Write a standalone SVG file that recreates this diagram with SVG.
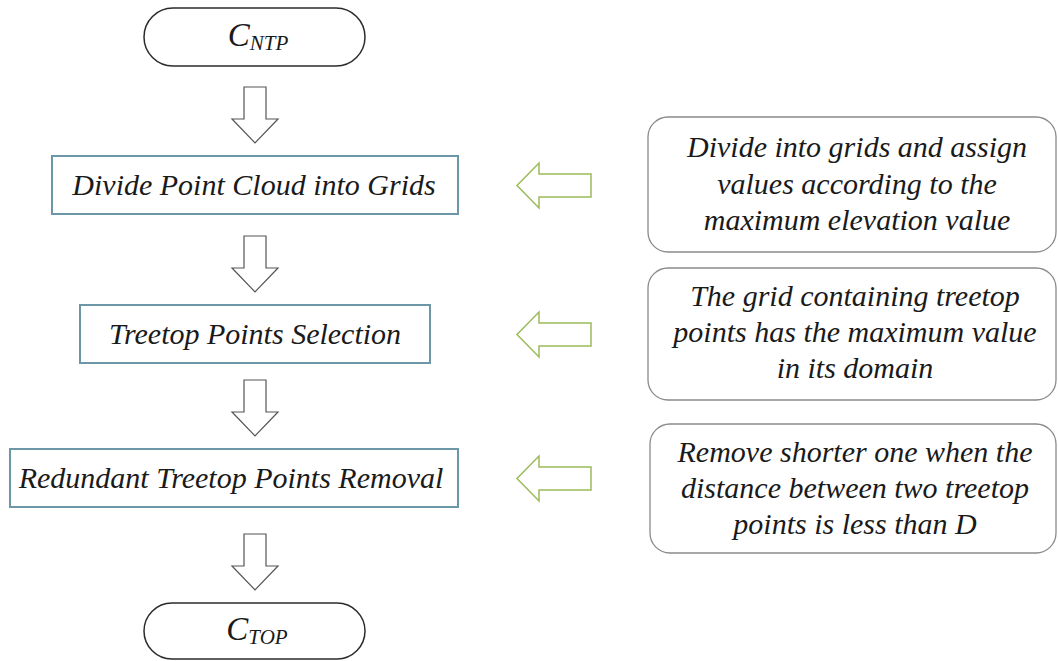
<svg xmlns="http://www.w3.org/2000/svg" width="1058" height="661" viewBox="0 0 1058 661">
<defs>
<style>
.t{font-family:"Liberation Serif","Times New Roman",serif;font-style:italic;fill:#1a1a1a;font-size:30px;text-anchor:middle}
.term{fill:#fff;stroke:#2b2b2b;stroke-width:1.5}
.proc{fill:#fff;stroke:#6b97a6;stroke-width:2}
.note{fill:#fff;stroke:#8a8a8a;stroke-width:1.3}
.down{fill:#fff;stroke:#555;stroke-width:1.2}
.left{fill:#fff;stroke:#9bbb59;stroke-width:1.5}
.sub{font-size:21px}
</style>
</defs>
<rect width="1058" height="661" fill="#fff"/>
<g id="start">
<rect class="term" x="144" y="8" width="221" height="58" rx="29"/>
<text class="t" x="258" y="46" style="font-size:33px">C<tspan class="sub" dy="4">NTP</tspan></text>
</g>
<g id="divide">
<rect class="proc" x="52" y="156" width="406" height="58"/>
<text class="t" x="254" y="195">Divide Point Cloud into Grids</text>
</g>
<g id="select">
<rect class="proc" x="80" y="305" width="350" height="58"/>
<text class="t" x="255" y="344">Treetop Points Selection</text>
</g>
<g id="remove">
<rect class="proc" x="10" y="449" width="448" height="58"/>
<text class="t" x="231" y="488">Redundant Treetop Points Removal</text>
</g>
<g id="end">
<rect class="term" x="144" y="603" width="221" height="56" rx="28"/>
<text class="t" x="257" y="640" style="font-size:33px">C<tspan class="sub" dy="4">TOP</tspan></text>
</g>
<g id="note1">
<rect class="note" x="648" y="117" width="408" height="135" rx="20"/>
<text class="t" x="857" y="157">Divide into grids and assign</text>
<text class="t" x="857" y="194">values according to the</text>
<text class="t" x="857" y="230">maximum elevation value</text>
</g>
<g id="note2">
<rect class="note" x="648" y="268" width="408" height="132" rx="20"/>
<text class="t" x="855" y="306">The grid containing treetop</text>
<text class="t" x="855" y="342">points has the maximum value</text>
<text class="t" x="855" y="378">in its domain</text>
</g>
<g id="note3">
<rect class="note" x="650" y="424" width="406" height="129" rx="20"/>
<text class="t" x="855" y="462">Remove shorter one when the</text>
<text class="t" x="855" y="498">distance between two treetop</text>
<text class="t" x="855" y="534">points is less than  D</text>
</g>
<g id="connectors">
<path class="down" d="M244,87 H266 V119 H278 L255,143 L232,119 H244 Z"/>
<path class="down" d="M244,236 H266 V268 H278 L255,292 L232,268 H244 Z"/>
<path class="down" d="M244,380 H266 V412 H278 L255,436 L232,412 H244 Z"/>
<path class="down" d="M244,534 H266 V566 H278 L255,590 L232,566 H244 Z"/>
<path class="left" d="M591,174 V197 H539 V208 L517,185.5 L539,163 V174 Z"/>
<path class="left" d="M591,323 V346 H539 V357 L517,334.5 L539,312 V323 Z"/>
<path class="left" d="M591,467 V490 H539 V501 L517,478.5 L539,456 V467 Z"/>
</g>
</svg>
